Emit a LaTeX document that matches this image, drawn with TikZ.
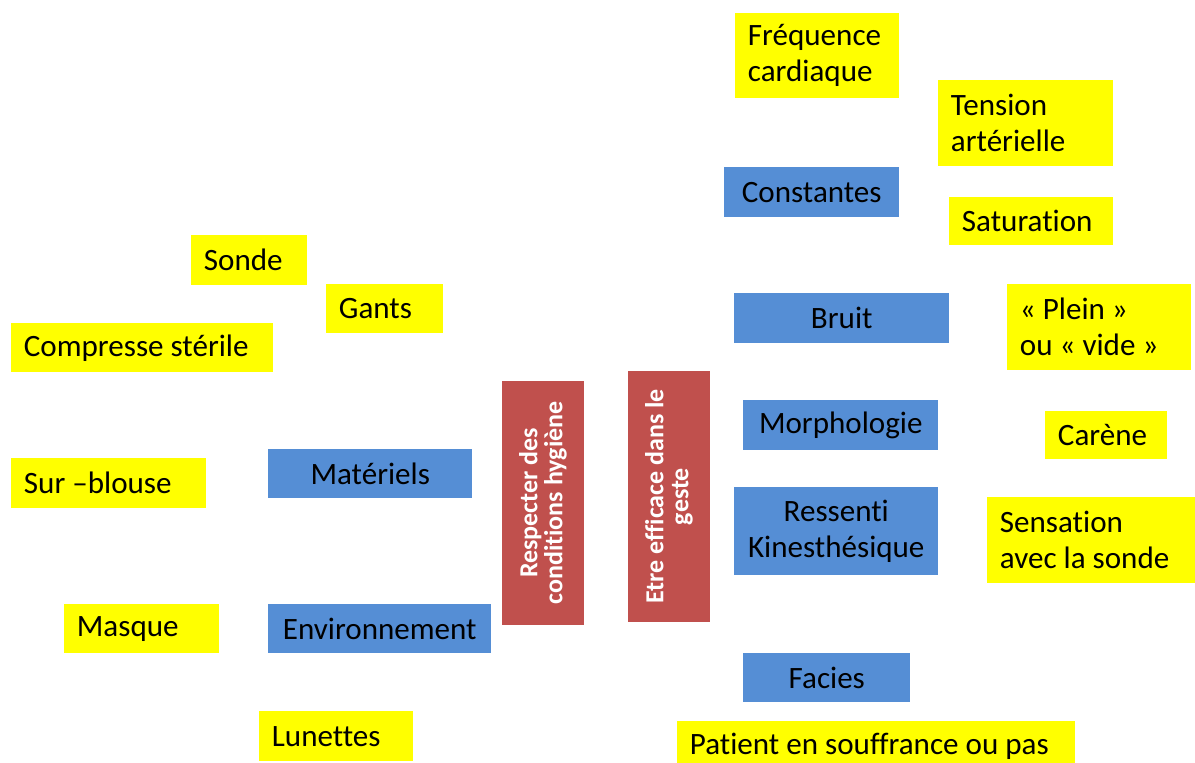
\documentclass[tikz,border=0pt]{standalone}
\usepackage{fontspec}
\setmainfont{Carlito}[Ligatures=NoCommon]
\definecolor{ylw}{HTML}{FFFF00}
\definecolor{blu}{HTML}{558ED5}
\definecolor{rd}{HTML}{C0504D}
\tikzset{
  base/.style={anchor=north west, inner ysep=0pt, font=\fontsize{23.3}{27}\selectfont, text=black},
  ybox/.style={base, fill=ylw, align=left, inner xsep=9.5pt},
  bbox/.style={base, fill=blu, align=center, inner xsep=0pt},
  rbox/.style={fill=rd, text=white, font=\bfseries\fontsize{19.5}{18.75}\selectfont, align=center, rotate=90, inner sep=0pt}
}
\newcommand\nsp{\spaceskip=0pt\xspaceskip=0pt\relax}
\newcommand\yb[6]{%
  \pgfmathsetmacro\bxw{(#4-#2)*0.75-19}%
  \pgfmathsetmacro\bxh{(#5-#3)*0.75}%
  \node[ybox, text width=\bxw pt, minimum height=\bxh pt] (#1) at (#2,#3) {\nsp #6};}
\newcommand\bb[6]{%
  \pgfmathsetmacro\bxw{(#4-#2)*0.75}%
  \pgfmathsetmacro\bxh{(#5-#3)*0.75}%
  \node[bbox, text width=\bxw pt, minimum height=\bxh pt] (#1) at (#2,#3) {\nsp #6};}
\begin{document}
\begin{tikzpicture}[x=0.75pt, y=-0.75pt]
\clip (0,0) rectangle (1195,763);
\fill[white] (0,0) rectangle (1195,763);
% right side
\yb{freq}{735}{13}{899}{98}{Fréquence\\cardiaque}
\yb{tens}{938}{80}{1113}{166}{Tension\\artérielle}
\bb{const}{724}{167}{899}{217}{Constantes}
\yb{sat}{949}{197}{1113}{245}{Saturation}
\bb{bruit}{734}{293}{949}{343}{Bruit}
\yb{plein}{1007}{284}{1191}{370}{« Plein »\\ou « vide »}
\bb{morph}{743}{400}{938}{450}{Morphologie}
\yb{carene}{1045}{411}{1167}{459}{Carène}
\bb{ress}{734}{487}{938}{575}{Ressenti\\Kinesthésique}
\yb{sens}{987}{497}{1195}{583}{Sensation\\avec la sonde}
\bb{facies}{743}{653}{910}{702}{Facies}
\yb{patient}{677}{721}{1075}{771}{Patient en souffrance ou pas}
% left side
\yb{sonde}{191}{235}{307}{285}{Sonde}
\yb{gants}{326}{284}{443}{333}{Gants}
\yb{compr}{11}{323}{273}{372}{Compresse stérile}
\bb{mat}{268}{449}{472}{498}{Matériels}
\yb{blouse}{11}{458}{206}{508}{Sur –blouse}
\yb{masque}{64}{604}{219}{653}{Masque}
\bb{env}{268}{604}{491}{653}{Environnement}
\yb{lun}{259}{711}{413}{761}{Lunettes}
% central red boxes
\node[rbox, minimum width=244*0.75pt, minimum height=82*0.75pt] (hyg) at (543,503) {\nsp Respecter des\\conditions hygiène};
\node[rbox, minimum width=251*0.75pt, minimum height=82*0.75pt] (geste) at (669,496.5) {\nsp Etre efficace dans le\\geste};
\end{tikzpicture}
\end{document}
